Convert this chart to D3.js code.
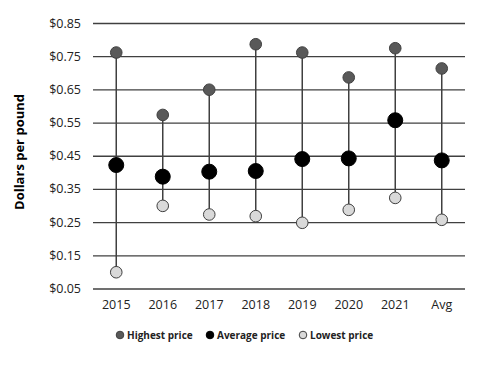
<!DOCTYPE html>
<html><head><meta charset="utf-8">
<script src="https://cdn.jsdelivr.net/npm/d3@7"></script>
<style>body{margin:0;background:#fff;} svg{display:block;}</style>
</head><body>
<script>
const categories = ["2015","2016","2017","2018","2019","2020","2021","Avg"];
const highest = [0.761,0.573,0.649,0.786,0.761,0.686,0.774,0.713];
const average = [0.422,0.387,0.402,0.404,0.440,0.442,0.557,0.436];
const lowest  = [0.099,0.299,0.273,0.268,0.248,0.287,0.323,0.257];
const yTicks = [0.05,0.15,0.25,0.35,0.45,0.55,0.65,0.75,0.85];

const W=480,H=378;
const svg=d3.select("body").append("svg").attr("width",W).attr("height",H);
const font="'Open Sans', sans-serif";
const x=d3.scaleBand().domain(categories).range([93,465]);
const y=d3.scaleLinear().domain([0.05,0.85]).range([288.5,23]);

// gridlines
const yAxis=d3.axisLeft(y).tickValues(yTicks).tickSize(-(465-93)).tickPadding(12).tickFormat(d=>"$"+d.toFixed(2));
const gy=svg.append("g").attr("transform","translate(93,0)").call(yAxis);
gy.select(".domain").remove();
gy.selectAll(".tick line").attr("stroke","#404040").attr("stroke-width",1.3);
gy.selectAll(".tick text").attr("font-family",font).attr("font-size",12.5).attr("fill","#222");

const xAxis=d3.axisBottom(x).tickSize(0).tickPadding(12);
const gx=svg.append("g").attr("transform","translate(0,288.5)").call(xAxis);
gx.select(".domain").remove();
gx.selectAll(".tick text").attr("font-family",font).attr("font-size",12.5).attr("fill","#222");

svg.append("text").attr("transform","translate(24,152) rotate(-90)").attr("text-anchor","middle")
  .attr("font-family",font).attr("font-weight","bold").attr("font-size",13).attr("fill","#000").text("Dollars per pound");

const cx=d=>x(d)+x.bandwidth()/2;
// stems
svg.append("g").selectAll("line").data(categories).join("line")
  .attr("x1",cx).attr("x2",cx)
  .attr("y1",(d,i)=>y(highest[i])).attr("y2",(d,i)=>y(lowest[i]))
  .attr("stroke","#404040").attr("stroke-width",1.5);

function pts(vals,r,fill,stroke){
  svg.append("g").selectAll("circle").data(categories).join("circle")
    .attr("cx",cx).attr("cy",(d,i)=>y(vals[i])).attr("r",r)
    .attr("fill",fill).attr("stroke",stroke).attr("stroke-width",1);
}
pts(highest,5.8,"#595959","#404040");
pts(lowest,5.8,"#d9d9d9","#404040");
pts(average,7.5,"#000","#000");

// legend
const leg=[["Highest price","#595959","#404040",120],["Average price","#000","#000",210],["Lowest price","#d9d9d9","#404040",303]];
const lg=svg.append("g");
leg.forEach(([t,f,s,lx])=>{
  lg.append("circle").attr("cx",lx).attr("cy",335).attr("r",3.8).attr("fill",f).attr("stroke",s).attr("stroke-width",1);
  lg.append("text").attr("x",lx+7).attr("y",335).attr("dy","0.35em").attr("font-family",font)
    .attr("font-weight","bold").attr("font-size",10).attr("fill","#222").text(t);
});
</script>
</body></html>
